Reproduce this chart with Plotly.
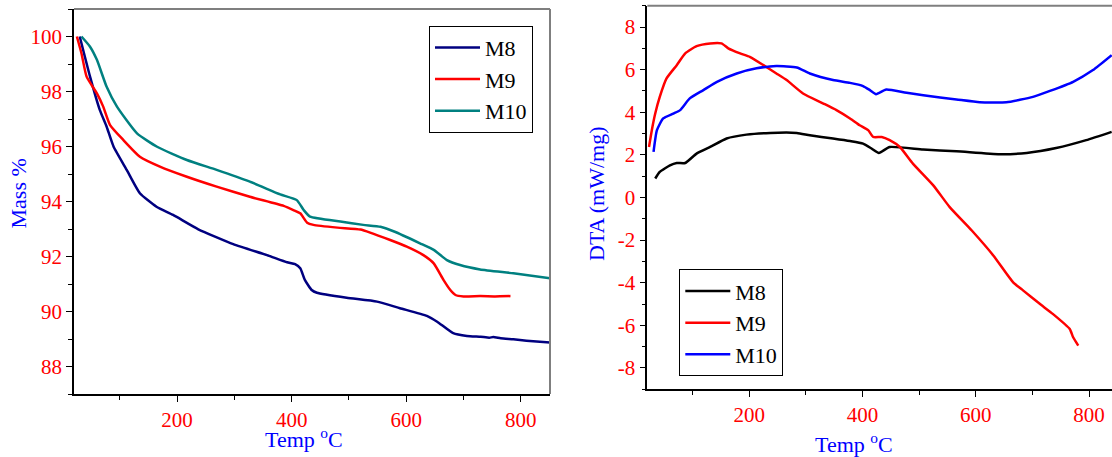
import plotly.graph_objects as go

# ---- TGA data (mass % vs temperature) ----
tga_m8_T = [30, 48, 65, 77, 89, 112, 135, 164, 193, 237, 298, 357, 392, 406, 415, 423, 435,
            444, 496, 549, 589, 636, 654, 682, 706, 730, 745, 752, 765, 787, 810, 851]
tga_m8 = [100, 98.54, 97.33, 96.72, 96.0, 95.15, 94.3, 93.81, 93.51, 92.99, 92.45, 92.05, 91.79,
          91.72, 91.57, 91.15, 90.78, 90.68, 90.50, 90.36, 90.12, 89.84, 89.63, 89.21, 89.11,
          89.08, 89.05, 89.07, 89.03, 88.99, 88.94, 88.87]

tga_m9_T = [25, 33, 42, 60, 71, 83, 106, 135, 170, 217, 269, 327, 386, 403, 415, 427, 438, 480,
            520, 537, 572, 601, 630, 648, 665, 677, 686, 700, 729, 755, 782]
tga_m9 = [100, 99.39, 98.54, 97.93, 97.45, 96.78, 96.24, 95.63, 95.27, 94.90, 94.54, 94.17, 93.84,
          93.69, 93.57, 93.23, 93.15, 93.05, 92.98, 92.87, 92.6, 92.36, 92.05, 91.75, 91.15,
          90.78, 90.6, 90.55, 90.56, 90.55, 90.56]

tga_m10_T = [33, 48, 60, 77, 95, 130, 165, 217, 269, 327, 380, 409, 421, 432, 485, 525, 555, 580,
             624, 648, 671, 694, 729, 787, 851]
tga_m10 = [100, 99.63, 99.15, 98.17, 97.45, 96.48, 95.99, 95.51, 95.15, 94.72, 94.26, 94.05, 93.69,
           93.45, 93.27, 93.15, 93.08, 92.9, 92.48, 92.24, 91.87, 91.69, 91.53, 91.39, 91.21]

# ---- DTA data (mW/mg vs temperature) ----
dta_m8_T = [34, 42, 60, 72, 87, 107, 131, 160, 195, 237, 284, 307, 348, 378, 401, 416, 429,
            448, 507, 566, 642, 690, 742, 795, 840]
dta_m8 = [0.89, 1.20, 1.51, 1.62, 1.62, 2.06, 2.37, 2.77, 2.95, 3.03, 3.03, 2.92, 2.77, 2.65,
          2.53, 2.30, 2.09, 2.37, 2.25, 2.17, 2.03, 2.09, 2.32, 2.69, 3.08]

dta_m9_T = [23, 28, 34, 42, 54, 72, 87, 107, 131, 151, 163, 184, 201, 225, 248, 266, 295, 331,
            354, 378, 395, 410, 419, 434, 448, 466, 489, 525, 554, 593, 631, 666, 684, 713, 736,
            766, 772, 781]
dta_m9 = [2.37, 3.16, 3.94, 4.72, 5.59, 6.21, 6.76, 7.1, 7.23, 7.23, 7.0, 6.76, 6.6, 6.21, 5.82,
          5.51, 4.88, 4.41, 4.10, 3.71, 3.39, 3.16, 2.84, 2.84, 2.69, 2.37, 1.59, 0.57, -0.45,
          -1.55, -2.72, -3.98, -4.37, -4.99, -5.46, -6.17, -6.56, -6.95]

dta_m10_T = [31, 37, 48, 66, 78, 95, 119, 143, 178, 213, 248, 284, 307, 348, 378, 401, 413, 424,
             442, 478, 537, 566, 607, 654, 701, 731, 772, 807, 840]
dta_m10 = [2.14, 3.16, 3.71, 3.94, 4.10, 4.65, 5.04, 5.43, 5.82, 6.06, 6.17, 6.10, 5.82, 5.51,
           5.38, 5.23, 5.04, 4.85, 5.07, 4.91, 4.69, 4.60, 4.47, 4.47, 4.72, 5.0, 5.43, 5.98, 6.68]

series_names = ["M8", "M9", "M10"]
tga_colors = ["#000080", "#ff0000", "#008080"]
dta_colors = ["#000000", "#ff0000", "#0000ff"]

temp_ticks = [200, 400, 600, 800]
mass_ticks = [88, 90, 92, 94, 96, 98, 100]
dta_ticks = [-8, -6, -4, -2, 0, 2, 4, 6, 8]
dta_tick_text = ["-8", "-6", "-4", "-2", "0", "2", "4", "6", "8"]

W, H = 1112, 457
FONT = "Liberation Serif"

fig = go.Figure()

tga_sets = [(tga_m8_T, tga_m8), (tga_m9_T, tga_m9), (tga_m10_T, tga_m10)]
for (t, v), name, col in zip(tga_sets, series_names, tga_colors):
    fig.add_trace(go.Scatter(x=t, y=v, name=name, mode="lines",
                             line=dict(color=col, width=2.5, shape="spline", smoothing=0.5),
                             xaxis="x", yaxis="y", legend="legend"))

dta_sets = [(dta_m8_T, dta_m8), (dta_m9_T, dta_m9), (dta_m10_T, dta_m10)]
for (t, v), name, col in zip(dta_sets, series_names, dta_colors):
    fig.add_trace(go.Scatter(x=t, y=v, name=name, mode="lines",
                             line=dict(color=col, width=2.5, shape="spline", smoothing=0.5),
                             xaxis="x2", yaxis="y2", legend="legend2"))


def px_x(p):
    return p / W


def px_y(p):
    return 1 - p / H


axis_common = dict(
    showline=True, linecolor="black", linewidth=1.5,
    ticks="outside", ticklen=6, tickwidth=1.2, tickcolor="black",
    tickfont=dict(family=FONT, size=21, color="#ff0000"),
    showgrid=False, zeroline=False,
)

legend_common = dict(xanchor="left", yanchor="top",
                     bordercolor="black", borderwidth=1, bgcolor="white",
                     font=dict(family=FONT, size=22, color="black"),
                     tracegroupgap=0, itemwidth=45)

fig.update_layout(
    width=W, height=H,
    margin=dict(l=0, r=0, t=0, b=0),
    paper_bgcolor="white", plot_bgcolor="white",
    showlegend=True,
    font=dict(family=FONT),
    xaxis=dict(domain=[px_x(74), px_x(550)], range=[20, 851], tickvals=temp_ticks,
               minor=dict(dtick=100, tick0=0, ticklen=4, tickcolor="black", ticks="outside"),
               anchor="y", **axis_common),
    yaxis=dict(domain=[px_y(394), px_y(9)], range=[87, 101], tickvals=mass_ticks,
               minor=dict(dtick=1, tick0=0, ticklen=4, tickcolor="black", ticks="outside"),
               anchor="x", **axis_common),
    xaxis2=dict(domain=[px_x(647.3), 1.0], range=[20, 840.6], tickvals=temp_ticks,
                minor=dict(dtick=100, tick0=0, ticklen=4, tickcolor="black", ticks="outside"),
                anchor="y2", **axis_common),
    yaxis2=dict(domain=[px_y(389.3), px_y(5.7)], range=[-9, 9], tickvals=dta_ticks,
                ticktext=dta_tick_text,
                minor=dict(dtick=1, tick0=0, ticklen=4, tickcolor="black", ticks="outside"),
                anchor="x2", **axis_common),
    legend=dict(x=px_x(429), y=px_y(25.7), **legend_common),
    legend2=dict(x=px_x(679.3), y=px_y(269.3), **legend_common),
)

# grey top/right frame lines
frame = dict(type="line", line=dict(color="#7f7f7f", width=2), layer="above")
fig.add_shape(xref="x domain", yref="y domain", x0=0, x1=1, y0=1, y1=1, **frame)
fig.add_shape(xref="x domain", yref="y domain", x0=1, x1=1, y0=0, y1=1, **frame)
fig.add_shape(xref="x2 domain", yref="y2 domain", x0=0, x1=1, y0=1, y1=1, **frame)

# axis titles
title_font = dict(family=FONT, size=22, color="#0000ff")
title_kw = dict(xref="paper", yref="paper", showarrow=False, font=title_font,
                xanchor="center", yanchor="middle")
fig.add_annotation(text="Mass %", x=px_x(18), y=px_y(193.5), textangle=-90, **title_kw)
fig.add_annotation(text="Temp <sup>o</sup>C", x=px_x(304), y=px_y(438), **title_kw)
fig.add_annotation(text="DTA (mW/mg)", x=px_x(596), y=px_y(194), textangle=-90, **title_kw)
fig.add_annotation(text="Temp <sup>o</sup>C", x=px_x(854), y=px_y(443), **title_kw)

fig.write_html("out.html")
